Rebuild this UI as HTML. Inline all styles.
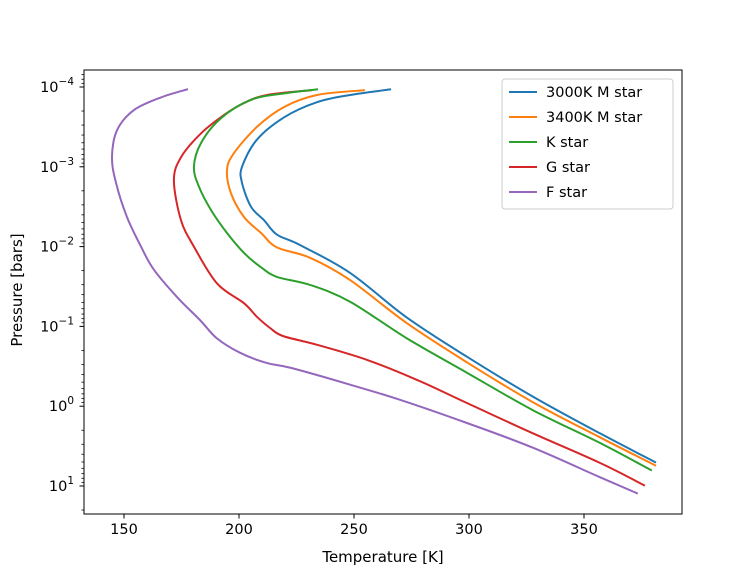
<!DOCTYPE html>
<html><head><meta charset="utf-8"><style>
body{margin:0;background:#fff;}
svg text{font-family:"DejaVu Sans","Liberation Sans",sans-serif;fill:#000;}
</style></head><body>
<svg id="chart" width="747" height="578" viewBox="0 0 747 578" xmlns="http://www.w3.org/2000/svg">
<rect x="0" y="0" width="747" height="578" fill="#fff"/>
<g id="series"></g>
<g id="axes"></g>
<rect x="84" y="70" width="598" height="444" fill="none" stroke="#000" stroke-width="1"/>
<g id="legend"></g>
<text x="383" y="562" font-size="15" text-anchor="middle">Temperature [K]</text>
<text transform="translate(22,290) rotate(-90)" font-size="15" text-anchor="middle">Pressure [bars]</text>
</svg>
<script>
const seriesNames=["3000K M star","3400K M star","K star","G star","F star"];
const seriesColors=["#1f77b4","#ff7f0e","#2ca02c","#d62728","#9467bd"];
const xTicks=[150,200,250,300,350];
const yTickExps=[-4,-3,-2,-1,0,1];
const tempM3000=[265.7,248.3,233.9,219.6,207.8,201.3,201.3,205.2,210.9,216.5,226.5,248.3,273.0,299.1,327.8,356.9,380.9];
const logPM3000=[-3.97,-3.90,-3.81,-3.62,-3.34,-3.00,-2.80,-2.50,-2.33,-2.15,-2.02,-1.67,-1.11,-0.62,-0.12,0.34,0.70];
const tempM3400=[254.3,233.9,219.6,207.8,197.8,194.8,196.5,202.2,209.6,216.5,230.9,248.3,273.0,299.1,327.8,356.9,380.9];
const logPM3400=[-3.96,-3.90,-3.75,-3.50,-3.17,-2.96,-2.67,-2.37,-2.17,-1.99,-1.86,-1.58,-1.04,-0.55,-0.05,0.39,0.74];
const tempK=[233.9,219.6,205.2,192.2,183.5,180.4,182.6,187.8,194.8,202.2,209.6,216.5,230.9,248.3,273.0,299.1,327.8,356.9,379.1];
const logPK=[-3.97,-3.92,-3.84,-3.61,-3.30,-3.00,-2.75,-2.46,-2.17,-1.92,-1.74,-1.62,-1.52,-1.31,-0.85,-0.42,0.05,0.46,0.80];
const tempG=[231.3,212.2,202.2,193.5,183.5,174.8,171.7,174.8,180.4,190.4,202.2,207.8,213.5,219.1,233.9,255.7,277.4,299.1,327.8,356.9,376.1];
const logPG=[-3.96,-3.90,-3.80,-3.65,-3.42,-3.12,-2.83,-2.33,-2.00,-1.54,-1.29,-1.12,-0.98,-0.88,-0.77,-0.58,-0.33,-0.04,0.34,0.71,0.99];
const tempF=[177.4,166.1,154.3,147.0,144.8,146.5,151.3,157.4,163.0,173.0,183.0,190.4,200.4,212.2,222.6,248.3,270.0,299.1,327.8,356.9,373.0];
const logPF=[-3.97,-3.87,-3.71,-3.46,-3.12,-2.80,-2.37,-2.00,-1.71,-1.37,-1.08,-0.85,-0.67,-0.54,-0.48,-0.27,-0.08,0.21,0.52,0.89,1.09];

const NS="http://www.w3.org/2000/svg";
function xs(t){return 239+(t-200)*2.3;}
function ys(lp){return 87+(lp+4)*79.8;}
function mk(tag,attrs,parent){const e=document.createElementNS(NS,tag);for(const k in attrs)e.setAttribute(k,attrs[k]);parent.appendChild(e);return e;}
function smoothPath(pts){
  let d='M'+pts[0][0].toFixed(1)+','+pts[0][1].toFixed(1);
  for(let i=0;i<pts.length-1;i++){
    const p0=pts[Math.max(0,i-1)],p1=pts[i],p2=pts[i+1],p3=pts[Math.min(pts.length-1,i+2)];
    const c1x=p1[0]+(p2[0]-p0[0])/6,c1y=p1[1]+(p2[1]-p0[1])/6;
    const c2x=p2[0]-(p3[0]-p1[0])/6,c2y=p2[1]-(p3[1]-p1[1])/6;
    d+=' C'+c1x.toFixed(1)+','+c1y.toFixed(1)+' '+c2x.toFixed(1)+','+c2y.toFixed(1)+' '+p2[0].toFixed(1)+','+p2[1].toFixed(1);
  }
  return d;
}

const seriesG=document.getElementById('series');
const temps=[tempM3000,tempM3400,tempK,tempG,tempF];
const pres=[logPM3000,logPM3400,logPK,logPG,logPF];
const keys=["m3000","m3400","k","g","f"];
for(let s=4;s>=0;s--){
  const pts=temps[s].map((t,i)=>[xs(t),ys(pres[s][i])]);
  const p=mk('path',{d:smoothPath(pts),fill:'none',stroke:seriesColors[s],'stroke-width':2,'stroke-linejoin':'round','stroke-linecap':'square'},seriesG);
  
  
}

const axesG=document.getElementById('axes');
xTicks.forEach(t=>{
  const x=xs(t);
  const l=mk('line',{x1:x,x2:x,y1:514,y2:518.5,stroke:'#000','stroke-width':1},axesG);
  
  
  const tx=mk('text',{x:x,y:534,'font-size':14.5,'text-anchor':'middle'},axesG);
  tx.textContent=String(t);
  
  
});
yTickExps.forEach(e=>{
  const y=ys(e);
  const l=mk('line',{x1:79.5,x2:84,y1:y,y2:y,stroke:'#000','stroke-width':1},axesG);
  
  
  const tx=mk('text',{x:74,y:y+5,'font-size':14.5,'text-anchor':'end'},axesG);
  
  
  const base=mk('tspan',{},tx);base.textContent='10';
  const sup=mk('tspan',{dy:-7,'font-size':10.5},tx);sup.textContent=(e<0?'\u2212':'')+Math.abs(e);
});
for(let e=-5;e<=1;e++){
  for(let m=2;m<=9;m++){
    const lp=e+Math.log10(m);
    const y=ys(lp);
    if(y<70||y>514)continue;
    const l=mk('line',{x1:81.5,x2:84,y1:y,y2:y,stroke:'#000','stroke-width':0.8},axesG);
    
    
  }
}

const lg=document.getElementById('legend');
const box=mk('rect',{x:502,y:79,width:171,height:130,rx:3,fill:'#fff','fill-opacity':0.8,stroke:'#ccc','stroke-width':1},lg);


seriesNames.forEach((n,i)=>{
  const y=92+i*25;
  const l=mk('line',{x1:509,x2:537,y1:y,y2:y,stroke:seriesColors[i],'stroke-width':2},lg);
  
  
  const t=mk('text',{x:546,y:y+5,'font-size':14.5},lg);
  t.textContent=n;
  
  
});
</script>
</body></html>
